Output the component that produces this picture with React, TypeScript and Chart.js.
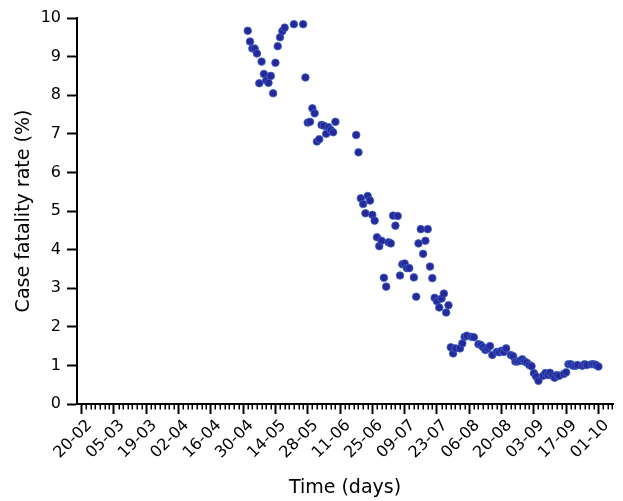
import React, { useEffect, useRef } from "react";
import { Chart, registerables } from "chart.js";

Chart.register(...registerables);

// Days since 20-02 (2020) and case fatality rate (%)
const dayOffsets = [
  72, 73, 74, 75, 76, 77, 78, 79, 80, 81, 82, 83, 84, 85, 86, 87, 88, 92, 96, 97,
  98, 99, 100, 101, 102, 103, 104, 105, 106, 107, 108, 109, 110, 119, 120,
  121, 122, 123, 124, 125, 126, 127, 128, 129, 130, 131, 132, 133, 134, 135, 136, 137,
  138, 139, 140, 141, 142, 144, 145, 146, 147, 148, 149, 150, 151, 152, 153, 154, 155,
  156, 157, 158, 159,
  160, 161, 162, 164, 165, 166, 167, 169, 170, 172, 173, 174, 175, 176, 177, 178, 180,
  181, 182, 183, 184, 186, 187, 188, 189, 190, 191, 192, 193, 194, 195, 196, 197, 198,
  200, 201, 202, 203, 204, 205, 206, 207, 209, 210, 211, 212, 213, 214, 215, 217, 218,
  219, 221, 222, 223, 224,
];

const cfrValues = [
  9.67, 9.39, 9.21, 9.21, 9.08, 8.31, 8.87, 8.55, 8.38, 8.32, 8.5, 8.05, 8.84, 9.27, 9.5, 9.66, 9.75, 9.84, 9.84, 8.46,
  7.29, 7.31, 7.66, 7.53, 6.8, 6.86, 7.23, 7.21, 7.0, 7.17, 7.1, 7.04, 7.31, 6.97, 6.52,
  5.33, 5.18, 4.94, 5.39, 5.27, 4.9, 4.75, 4.32, 4.09, 4.23, 3.27, 3.04, 4.19, 4.16, 4.88, 4.62, 4.87,
  3.33, 3.62, 3.64, 3.52, 3.52, 3.28, 2.78, 4.16, 4.53, 3.89, 4.23, 4.53, 3.56, 3.26, 2.75, 2.66, 2.5,
  2.73, 2.86, 2.37, 2.56,
  1.47, 1.31, 1.44, 1.44, 1.57, 1.74, 1.77, 1.74, 1.73, 1.55, 1.53, 1.47, 1.4, 1.44, 1.5, 1.27, 1.35,
  1.34, 1.38, 1.35, 1.44, 1.27, 1.24, 1.1, 1.1, 1.12, 1.16, 1.1, 1.07, 1.01, 0.98, 0.8, 0.71, 0.6,
  0.73, 0.8, 0.75, 0.81, 0.73, 0.68, 0.75, 0.73, 0.78, 0.82, 1.03, 1.03, 0.99, 0.99, 1.01, 0.99, 1.03,
  1.01, 1.03, 1.03, 1.01, 0.97,
];

const tickLabels = [
  "20-02", "05-03", "19-03", "02-04", "16-04", "30-04", "14-05", "28-05", "11-06",
  "25-06", "09-07", "23-07", "06-08", "20-08", "03-09", "17-09", "01-10",
];

const yTicks = [0, 1, 2, 3, 4, 5, 6, 7, 8, 9, 10];

const MAJOR_STEP = 14;
const MINOR_STEP = 2;
const X_MIN = -2;
const X_MAX = 230.3;
const FONT = "'DejaVu Sans', sans-serif";

const minorTicksPlugin = {
  id: "minorTicks",
  afterDraw(chart: any) {
    const xs = chart.scales.x;
    const ctx = chart.ctx;
    const bottom = chart.chartArea.bottom;
    ctx.save();
    ctx.strokeStyle = "#000";
    ctx.lineWidth = 1.5;
    for (let v = MINOR_STEP; v <= X_MAX; v += MINOR_STEP) {
      if (v % MAJOR_STEP === 0) continue;
      const px = Math.round(xs.getPixelForValue(v)) + 0.25;
      ctx.beginPath();
      ctx.moveTo(px, bottom);
      ctx.lineTo(px, bottom + 5.5);
      ctx.stroke();
    }
    ctx.restore();
  },
};

export default function App() {
  const canvasRef = useRef<HTMLCanvasElement | null>(null);

  useEffect(() => {
    if (!canvasRef.current) return;
    const points = dayOffsets.map((d, i) => ({ x: d, y: cfrValues[i] }));
    const chart = new Chart(canvasRef.current, {
      type: "scatter",
      data: {
        datasets: [
          {
            data: points,
            backgroundColor: "#27299a",
            borderColor: "#3b63c4",
            borderWidth: 0.8,
            pointRadius: 3.8,
            pointHoverRadius: 3.8,
          },
        ],
      },
      options: {
        animation: false,
        responsive: false,
        events: [],
        plugins: {
          legend: { display: false },
          tooltip: { enabled: false },
        },
        layout: { padding: { top: 18, right: 10, left: 0, bottom: 0 } },
        scales: {
          x: {
            type: "linear",
            min: X_MIN,
            max: X_MAX,
            afterBuildTicks: (s: any) => {
              s.ticks = tickLabels.map((_, i) => ({ value: i * MAJOR_STEP }));
            },
            afterFit: (s: any) => {
              s.height = 97;
            },
            grid: {
              drawOnChartArea: false,
              drawTicks: true,
              tickLength: 10,
              tickWidth: 2,
              tickColor: "#000",
            },
            border: { display: true, color: "#000", width: 2 },
            ticks: {
              autoSkip: false,
              maxRotation: 45,
              minRotation: 45,
              padding: 2,
              labelOffset: 8,
              color: "#000",
              font: { family: FONT, size: 16 },
              callback: (_v: any, i: number) => tickLabels[i],
            },
            title: {
              display: true,
              text: "Time (days)",
              color: "#000",
              font: { family: FONT, size: 19 },
              padding: { top: 0, bottom: 2 },
            },
          },
          y: {
            type: "linear",
            min: 0,
            max: 10,
            afterBuildTicks: (s: any) => {
              s.ticks = yTicks.map((v) => ({ value: v }));
            },
            afterFit: (s: any) => {
              s.width = 77;
            },
            grid: {
              drawOnChartArea: false,
              drawTicks: true,
              tickLength: 10,
              tickWidth: 2,
              tickColor: "#000",
            },
            border: { display: true, color: "#000", width: 2 },
            ticks: {
              padding: 6,
              color: "#000",
              font: { family: FONT, size: 16 },
              callback: (v: any) => String(v),
            },
            title: {
              display: true,
              text: "Case fatality rate (%)",
              color: "#000",
              font: { family: FONT, size: 19 },
              padding: { top: 13, bottom: 0 },
            },
          },
        },
      },
      plugins: [minorTicksPlugin],
    });
    return () => chart.destroy();
  }, []);

  return (
    <div style={{ position: "absolute", left: 0, top: 0, width: 623, height: 501, background: "#fff" }}>
      <canvas ref={canvasRef} width={623} height={501} />
    </div>
  );
}
